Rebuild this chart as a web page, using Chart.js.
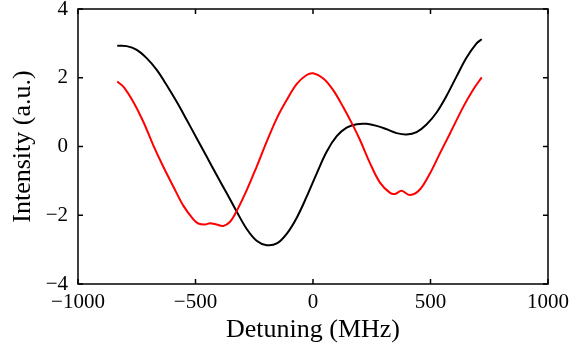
<!DOCTYPE html>
<html>
<head>
<meta charset="utf-8">
<script src="https://cdn.jsdelivr.net/npm/chart.js@4"></script>
<style>
html,body{margin:0;padding:0;background:#fff;}
#wrap{width:571px;height:352px;position:relative;}
</style>
</head>
<body>
<div id="wrap"><canvas id="c" width="571" height="352"></canvas></div>
<script>
// Detuning (MHz) and intensity (a.u.)
const blackX = [-833, -793, -750, -708, -665, -623, -580, -537, -495, -452, -410, -367, -325, -282, -240, -197, -154, -112, -69, -27, 16, 58, 101, 143, 186, 228, 271, 314, 356, 398, 441, 483, 526, 568, 611, 653, 696, 718];
const blackY = [2.93, 2.92, 2.81, 2.57, 2.23, 1.79, 1.30, 0.77, 0.24, -0.30, -0.83, -1.36, -1.89, -2.40, -2.74, -2.87, -2.82, -2.54, -2.07, -1.46, -0.78, -0.15, 0.30, 0.55, 0.65, 0.66, 0.60, 0.50, 0.39, 0.35, 0.42, 0.64, 0.99, 1.47, 2.04, 2.58, 3.00, 3.12];

const redX = [-833, -807, -765, -722, -680, -637, -594, -552, -509, -488, -460, -438, -410, -382, -353, -325, -282, -240, -197, -154, -112, -69, -27, 1, 44, 86, 129, 171, 200, 243, 285, 328, 349, 377, 413, 455, 498, 540, 583, 640, 682, 718];
const redY = [1.89, 1.74, 1.30, 0.72, 0.04, -0.59, -1.17, -1.72, -2.12, -2.24, -2.27, -2.23, -2.27, -2.31, -2.19, -1.88, -1.27, -0.59, 0.14, 0.82, 1.35, 1.82, 2.08, 2.13, 1.98, 1.64, 1.14, 0.60, 0.19, -0.49, -1.05, -1.35, -1.38, -1.29, -1.41, -1.25, -0.78, -0.20, 0.38, 1.16, 1.66, 2.01];

const xTicks = [-1000, -500, 0, 500, 1000];
const yTicks = [-4, -2, 0, 2, 4];
const xTitle = 'Detuning (MHz)';
const yTitle = 'Intensity (a.u.)';

function pts(xs, ys){ return xs.map((x,i)=>({x:x, y:ys[i]})); }
function fmt(v){ return v < 0 ? '\u2212' + Math.abs(v) : String(v); }

const boxPlugin = {
  id: 'box',
  afterDraw(chart){
    const {ctx, chartArea:a, scales} = chart;
    ctx.save();
    ctx.strokeStyle = '#000';
    ctx.lineWidth = 1.5;
    ctx.strokeRect(a.left, a.top, a.right - a.left, a.bottom - a.top);
    const L = 5;
    ctx.beginPath();
    xTicks.forEach(v=>{
      const px = scales.x.getPixelForValue(v);
      ctx.moveTo(px, a.bottom); ctx.lineTo(px, a.bottom - L);
      ctx.moveTo(px, a.top); ctx.lineTo(px, a.top + L);
    });
    yTicks.forEach(v=>{
      const py = scales.y.getPixelForValue(v);
      ctx.moveTo(a.left, py); ctx.lineTo(a.left + L, py);
      ctx.moveTo(a.right, py); ctx.lineTo(a.right - L, py);
    });
    ctx.stroke();
    ctx.restore();
  }
};

new Chart(document.getElementById('c'), {
  type: 'line',
  data: {
    datasets: [
      {data: pts(redX, redY), borderColor: '#ff0000', borderWidth: 2, pointRadius: 0, tension: 0.35, fill: false},
      {data: pts(blackX, blackY), borderColor: '#000000', borderWidth: 2, pointRadius: 0, tension: 0.35, fill: false}
    ]
  },
  options: {
    responsive: false,
    animation: false,
    layout: {padding: {top: 9, right: 23, left: 0, bottom: 0}},
    plugins: {legend: {display: false}, tooltip: {enabled: false}},
    scales: {
      x: {
        type: 'linear', min: -1000, max: 1000,
        afterBuildTicks(s){ s.ticks = xTicks.map(v=>({value:v})); },
        afterFit(s){ s.height = 68; s.paddingLeft = 0; s.paddingRight = 0; s.paddingTop = 0; s.paddingBottom = 0; },
        grid: {display: false, drawTicks: false},
        border: {display: false},
        ticks: {color: '#000', padding: 6, maxRotation: 0, autoSkip: false, font: {family: 'Liberation Serif', size: 21}, callback: v => fmt(v)},
        title: {display: true, text: xTitle, color: '#000', padding: {top: 0, bottom: 6}, font: {family: 'Liberation Serif', size: 26}}
      },
      y: {
        type: 'linear', min: -4, max: 4,
        afterBuildTicks(s){ s.ticks = yTicks.map(v=>({value:v})); },
        afterFit(s){ s.width = 78; s.paddingTop = 0; s.paddingBottom = 0; s.paddingLeft = 0; s.paddingRight = 0; },
        grid: {display: false, drawTicks: false},
        border: {display: false},
        ticks: {color: '#000', padding: 10, autoSkip: false, font: {family: 'Liberation Serif', size: 21}, callback: v => fmt(v)},
        title: {display: true, text: yTitle, color: '#000', padding: {top: 8, bottom: 0}, font: {family: 'Liberation Serif', size: 26}}
      }
    }
  },
  plugins: [boxPlugin]
});
</script>
</body>
</html>
